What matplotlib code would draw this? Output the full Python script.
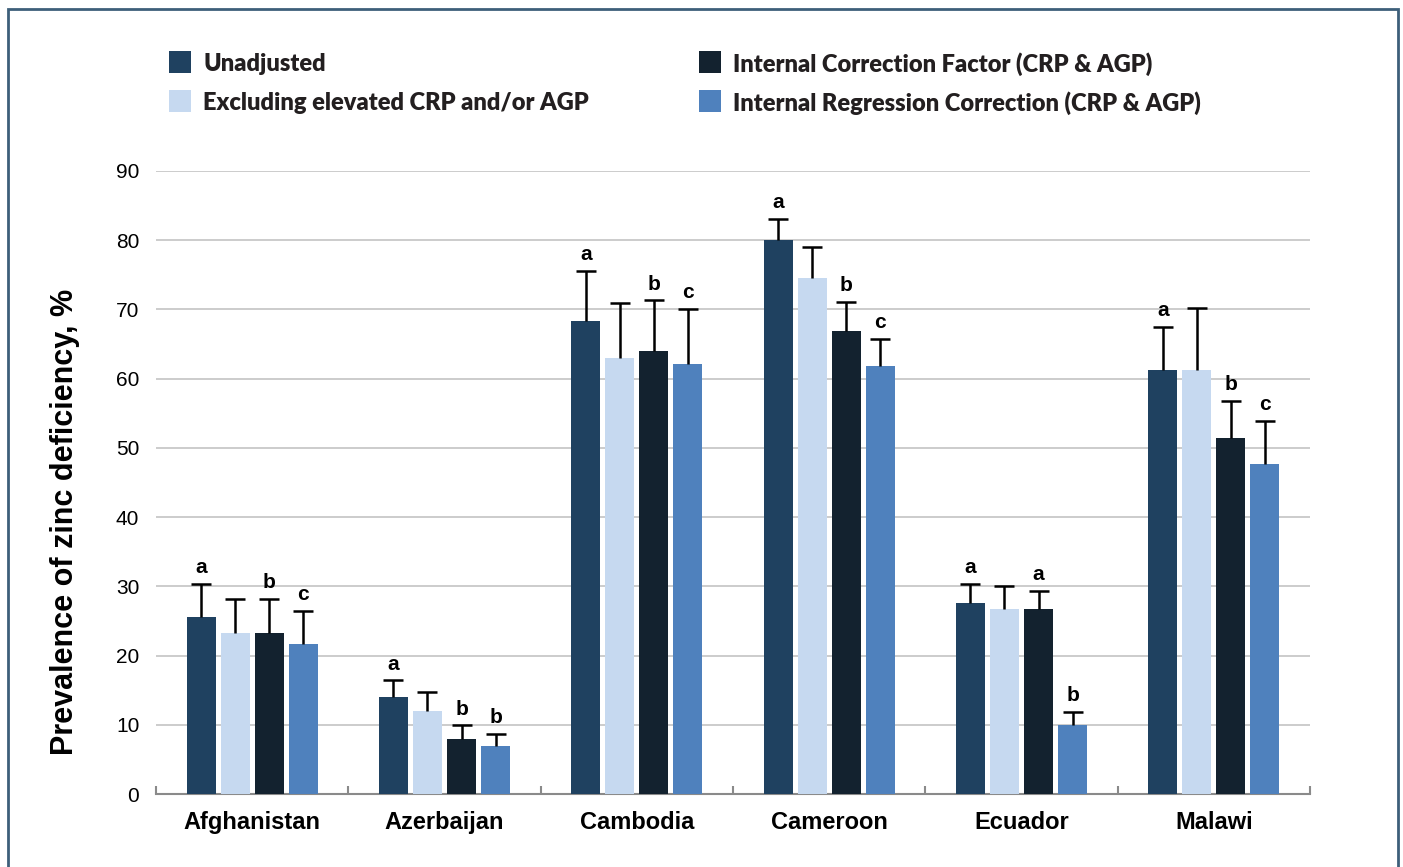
import matplotlib.pyplot as plt
import numpy as np
from matplotlib.patches import Rectangle

# zinc deficiency prevalence by adjustment method
countries = ['Afghanistan', 'Azerbaijan', 'Cambodia', 'Cameroon', 'Ecuador', 'Malawi']
series = ['Unadjusted', 'Excluding elevated CRP and/or AGP',
          'Internal Correction Factor (CRP & AGP)', 'Internal Regression Correction (CRP & AGP)']

unadjusted = [25.5, 14.0, 68.3, 80.0, 27.6, 61.3]
excluding = [23.3, 12.0, 63.0, 74.6, 26.7, 61.3]
icf = [23.3, 8.0, 64.0, 66.9, 26.7, 51.4]
irc = [21.6, 7.0, 62.1, 61.8, 10.0, 47.7]

unadjusted_hi = [30.3, 16.4, 75.6, 83.1, 30.4, 67.4]
excluding_hi = [28.2, 14.8, 71.0, 79.0, 30.0, 70.2]
icf_hi = [28.2, 9.9, 71.3, 71.1, 29.3, 56.8]
irc_hi = [26.4, 8.7, 70.0, 65.8, 11.9, 53.9]

letters_unadj = ['a', 'a', 'a', 'a', 'a', 'a']
letters_excl = ['', '', '', '', '', '']
letters_icf = ['b', 'b', 'b', 'b', 'a', 'b']
letters_irc = ['c', 'b', 'c', 'c', 'b', 'c']

colors = ['#1f4160', '#c6d9f0', '#13222f', '#4f81bd']

plt.rcParams['font.family'] = ['Liberation Sans', 'DejaVu Sans']

W, H = 1403, 867
fig = plt.figure(figsize=(W / 100, H / 100), dpi=100)
ax = fig.add_axes([156 / W, (H - 794) / H, (1310 - 156) / W, (794 - 171) / H])

x = np.arange(len(countries))
step = 0.177
width = 0.151
vals = [unadjusted, excluding, icf, irc]
his = [unadjusted_hi, excluding_hi, icf_hi, irc_hi]
lets = [letters_unadj, letters_excl, letters_icf, letters_irc]

for i in range(4):
    pos = x + (i - 1.5) * step
    v = np.array(vals[i])
    err = np.array(his[i]) - v
    ax.bar(pos, v, width, color=colors[i], zorder=3)
    eb = ax.errorbar(pos, v, yerr=[np.zeros_like(err), err], fmt='none', ecolor='black',
                     elinewidth=1.8, capsize=7, capthick=1.8, zorder=4)
    eb[1][0].set_visible(False)  # only the upper cap
    for p, h, t in zip(pos, his[i], lets[i]):
        if t:
            ax.annotate(t, (p, h), xytext=(0, 5), textcoords='offset points',
                        ha='center', va='bottom', fontsize=15, fontweight='bold')

ax.set_xlim(-0.5, 5.5)
ax.set_ylim(0, 90)
ax.set_yticks(range(0, 91, 10))
ax.yaxis.grid(True, color='#c8c8c8', linewidth=1.3, zorder=0)
ax.set_axisbelow(True)
for s in ['top', 'right', 'left']:
    ax.spines[s].set_visible(False)
ax.spines['bottom'].set_color('#8a8a8a')
ax.spines['bottom'].set_linewidth(1.5)
ax.tick_params(axis='y', length=0, pad=12, labelsize=15)

ax.set_xticks(x)
ax.set_xticklabels(countries, fontsize=17, fontweight='bold')
ax.tick_params(axis='x', which='major', length=0, pad=12)
ax.set_xticks(np.arange(-0.5, 6.0, 1.0), minor=True)
ax.tick_params(axis='x', which='minor', direction='in', length=6, width=1.5, color='#8a8a8a')

ax.set_ylabel('Prevalence of zinc deficiency, %', fontsize=22, fontweight='bold')
ax.yaxis.set_label_coords((80 - 156) / 1154, (794 - 522) / 623)

# legend drawn by hand so both columns share the same row lines
leg_x = [169, 169, 699, 699]
leg_y = [62, 101, 62, 101]
sq = 22
for name, c, lx, ly in zip(series, colors, leg_x, leg_y):
    fig.patches.append(Rectangle((lx / W, (H - ly - sq / 2) / H), sq / W, sq / H,
                                 transform=fig.transFigure, facecolor=c, edgecolor='none'))
    fig.text((lx + sq + 12) / W, (H - ly) / H, name, ha='left', va='center_baseline',
             fontsize=17, fontweight='heavy', family='Lato', color='#231f20')

fig.patches.append(Rectangle((8 / W, -0.01), (1398 - 8) / W, 1 - 9 / H + 0.01,
                             transform=fig.transFigure, fill=False,
                             edgecolor='#3d5f7a', linewidth=2))

plt.savefig('out.png', dpi=100)
